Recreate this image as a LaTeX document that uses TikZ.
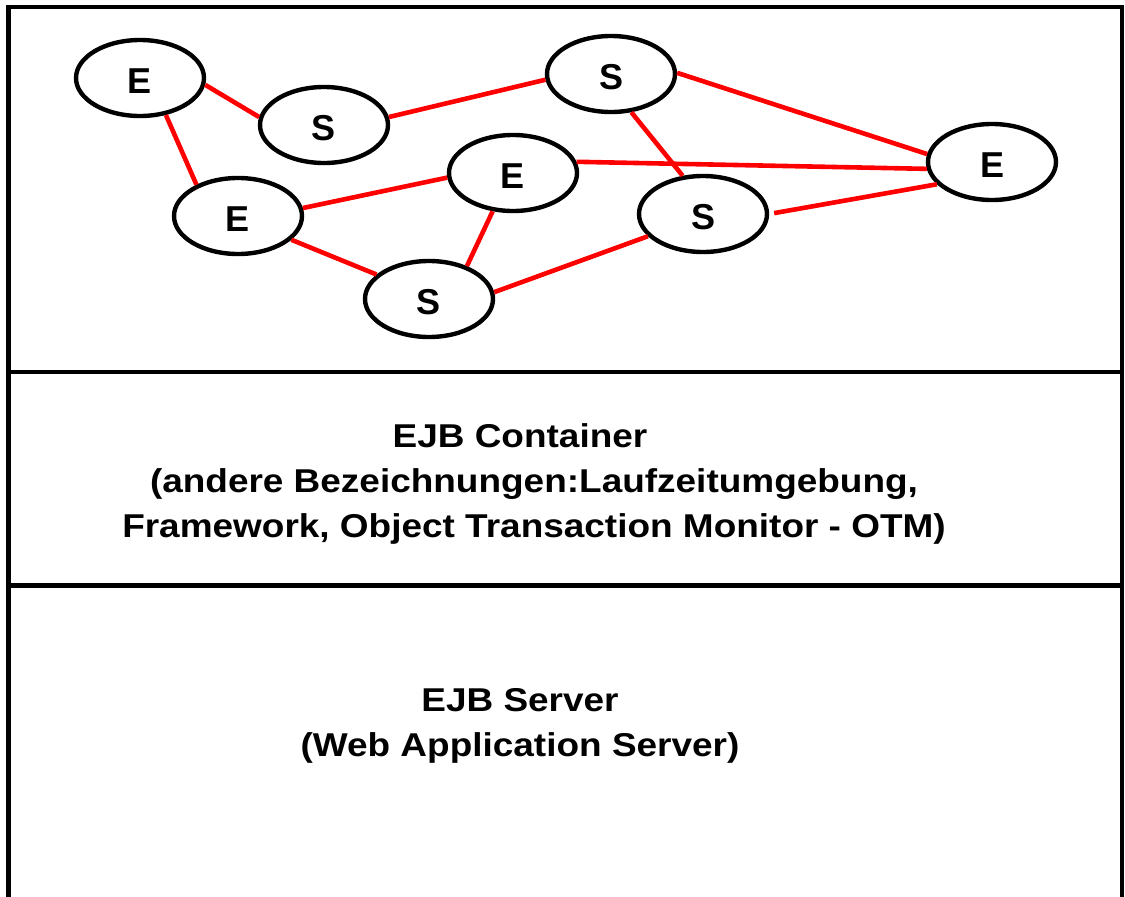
\documentclass[tikz,border=0pt]{standalone}
\usepackage{fontspec}
\setmainfont{Liberation Sans}
\newfontfamily\widesans{Liberation Sans}[FakeStretch=1.12]
\usetikzlibrary{shapes.geometric}
\begin{document}
\begin{tikzpicture}[x=1pt,y=-1pt,
  bean/.style={ellipse,draw=black,line width=4.4pt,fill=white,inner sep=0pt,
    minimum width=128pt,minimum height=76pt,text height=31pt,text depth=0pt,
    font=\fontsize{36}{40}\selectfont\bfseries},
  link/.style={draw=red,line width=4.6pt},
  frame/.style={draw=black,line width=4.4pt},
  label/.style={align=center,font=\widesans\fontsize{33}{45}\selectfont\bfseries}]
\useasboundingbox (0,0) rectangle (1125,897);
% frame
\coordinate (bl) at (8.5,900);
\coordinate (tl) at (8.5,7);
\coordinate (tr) at (1122,7);
\coordinate (br) at (1122,900);
\coordinate (s1l) at (8.5,372);
\coordinate (s1r) at (1122,372);
\coordinate (s2l) at (8.5,585.5);
\coordinate (s2r) at (1122,585.5);
\draw[frame,line cap=rect] (bl) -- (tl) -- (tr) -- (br);
\draw[frame] (s1l) -- (s1r);
\draw[frame] (s2l) -- (s2r);
% beans
\node[bean] (e1) at (140,78) {E};
\node[bean] (s1) at (324,125) {S};
\node[bean] (s2) at (611,74) {S};
\node[bean] (em) at (513,173) {E};
\node[bean] (el) at (238,216) {E};
\node[bean] (sb) at (429,299) {S};
\node[bean] (sr) at (703,214) {S};
\node[bean] (er) at (992,162) {E};
% links
\draw[link] (e1.-6) -- (s1.173);
\draw[link] (e1.-55) -- (el.143);
\draw[link] (s1.7) -- (s2.185);
\draw[link] (s2.1) -- (er.173);
\draw[link] (s2.-62) -- (sr.118);
\draw[link] (em.10) -- (er.186);
\draw[link] (el.7) -- (em.184);
\draw[link] (el.-24) -- (sb.155);
\draw[link] (em.-118) -- (sb.41);
\draw[link] (sb.6) -- (sr.202);
\draw[link,shorten <=5pt] (sr.0) -- (er.202);
% texts
\node[label] (container) at (534,484) {EJB Container\hspace*{28pt}\\(andere Bezeichnungen:Laufzeitumgebung,\\Framework, Object Transaction Monitor - OTM)};
\node[label] (server) at (520,726) {EJB Server\\(Web Application Server)};
\end{tikzpicture}
\end{document}
